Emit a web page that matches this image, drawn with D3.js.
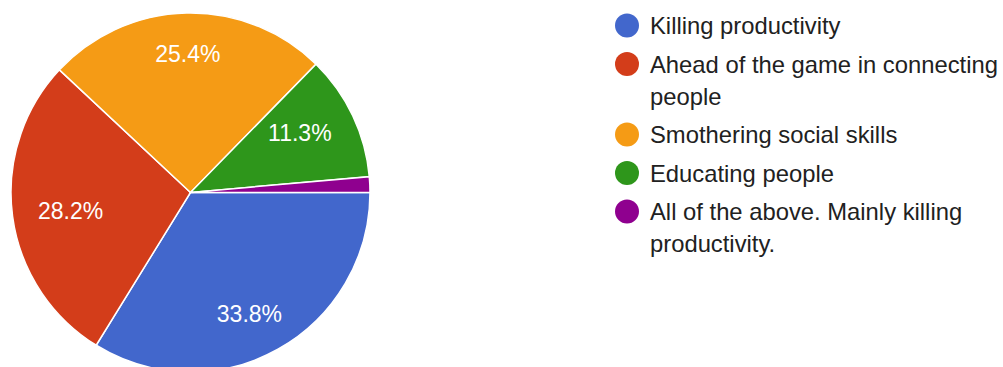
<!DOCTYPE html>
<html>
<head>
<meta charset="utf-8">
<script src="https://cdn.jsdelivr.net/npm/d3@7"></script>
<style>
  html, body { margin: 0; padding: 0; background: #fff; }
  svg { display: block; font-family: "Liberation Sans", Arial, sans-serif; }
</style>
</head>
<body>
<svg id="chart" width="1003" height="367"></svg>
<script>
// Survey answers and response counts
const categories = [
  "Killing productivity",
  "Ahead of the game in connecting people",
  "Smothering social skills",
  "Educating people",
  "All of the above. Mainly killing productivity."
];
const counts = [24, 20, 18, 8, 1];
const colors = ["#4267cc", "#d33d1a", "#f59b15", "#2e961b", "#8f008f"];

const svg = d3.select("#chart");

const cx = 190.5, cy = 192.5, R = 179.5;
const total = d3.sum(counts);

const pie = d3.pie().sort(null).value(d => d)
  .startAngle(Math.PI / 2).endAngle(Math.PI / 2 + 2 * Math.PI);
const arcs = pie(counts);

const arc = d3.arc().innerRadius(0).outerRadius(R);
const unitArc = d3.arc().innerRadius(1).outerRadius(1);

const g = svg.append("g").attr("transform", `translate(${cx},${cy})`);

g.selectAll("path.slice")
  .data(arcs)
  .join("path")
  .attr("class", "slice")
  .attr("d", arc)
  .attr("fill", (d, i) => colors[i])
  .attr("stroke", "#fff")
  .attr("stroke-width", 1.5);

// Percentage labels, placed on an ellipse inside the pie
const lrx = 121, lry = 139;
const fmt = d3.format(".1%");
g.selectAll("text.pct")
  .data(arcs.filter(d => d.value / total > 0.05))
  .join("text")
  .attr("class", "pct")
  .attr("x", d => unitArc.centroid(d)[0] * lrx)
  .attr("y", d => unitArc.centroid(d)[1] * lry)
  .attr("dy", "0.36em")
  .attr("text-anchor", "middle")
  .attr("fill", "#fff")
  .attr("font-size", 23)
  .text(d => fmt(d.value / total));

// Legend
const legendX = 627, textX = 650, maxTextW = 360;
const lineH = 32, itemGap = 38.5;
const legend = svg.append("g");
let y = 25.5;
categories.forEach((label, i) => {
  const item = legend.append("g");
  item.append("circle")
    .attr("cx", legendX).attr("cy", y).attr("r", 12)
    .attr("fill", colors[i]);
  const text = item.append("text")
    .attr("x", textX).attr("y", y)
    .attr("font-size", 23.8).attr("fill", "#212121");
  // wrap words into lines that fit the legend width
  const words = label.split(" ");
  let line = [];
  let lineNo = 0;
  let tspan = text.append("tspan").attr("x", textX).attr("dy", "0.36em");
  words.forEach(w => {
    line.push(w);
    tspan.text(line.join(" "));
    if (tspan.node().getComputedTextLength() > maxTextW && line.length > 1) {
      line.pop();
      tspan.text(line.join(" "));
      line = [w];
      lineNo++;
      tspan = text.append("tspan").attr("x", textX).attr("dy", lineH + "px").text(w);
    }
  });
  y += itemGap + lineNo * lineH;
});
</script>
</body>
</html>
